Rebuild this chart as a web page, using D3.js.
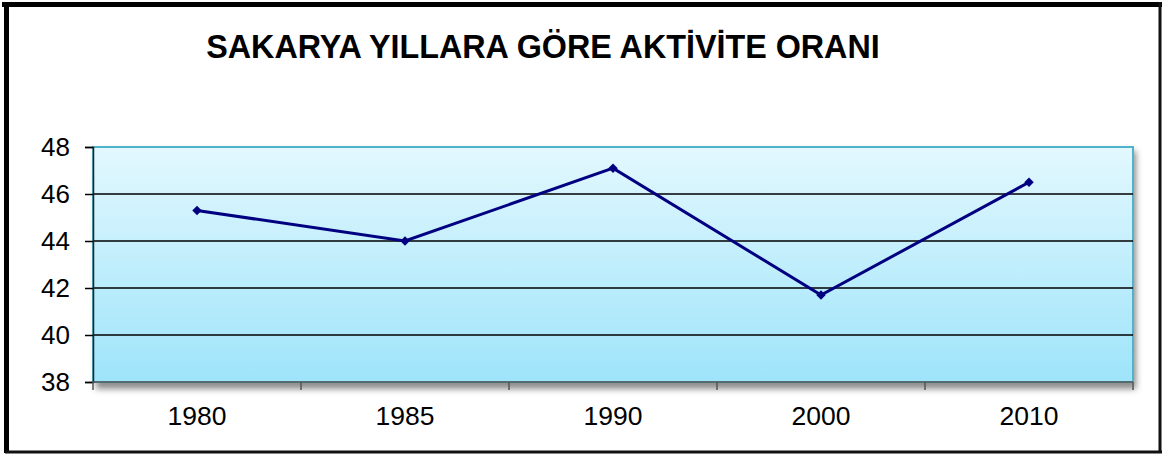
<!DOCTYPE html>
<html>
<head>
<meta charset="utf-8">
<script src="https://cdn.jsdelivr.net/npm/d3@7"></script>
<style>
  body { margin: 0; background: #fff; }
  text { font-family: "Liberation Sans", Arial, sans-serif; }
</style>
</head>
<body>
<script>
// data
var years = ["1980", "1985", "1990", "2000", "2010"];
var rates = [45.3, 44.0, 47.1, 41.7, 46.5];
var yTicks = [38, 40, 42, 44, 46, 48];
var title = "SAKARYA YILLARA GÖRE AKTİVİTE ORANI";

var W = 1165, H = 455;
var plot = {left: 93, top: 147, right: 1133, bottom: 382};

var svg = d3.select("body")
    .append("svg")
    .attr("width", W)
    .attr("height", H);

var defs = svg.append("defs");
var grad = defs.append("linearGradient")
    .attr("id", "bg")
    .attr("x1", 0).attr("y1", 0).attr("x2", 0).attr("y2", 1);
grad.append("stop").attr("offset", "0%").attr("stop-color", "#e3f8fe");
grad.append("stop").attr("offset", "100%").attr("stop-color", "#9ee4fa");

var blur = defs.append("filter").attr("id", "shadow")
    .attr("x", "-5%").attr("y", "-5%").attr("width", "110%").attr("height", "120%");
blur.append("feGaussianBlur").attr("stdDeviation", 3);

var x = d3.scaleBand()
    .domain(years)
    .range([plot.left, plot.right]);

var y = d3.scaleLinear()
    .domain([38, 48])
    .range([plot.bottom, plot.top]);

// title
svg.append("text")
    .attr("x", 543)
    .attr("y", 58)
    .attr("text-anchor", "middle")
    .attr("font-size", 32.3)
    .attr("font-weight", "bold")
    .text(title);

// shadow under the plot area
svg.append("rect")
    .attr("x", plot.left + 3)
    .attr("y", plot.top + 4)
    .attr("width", plot.right - plot.left)
    .attr("height", plot.bottom - plot.top + 3)
    .attr("fill", "#666")
    .attr("opacity", 0.75)
    .attr("filter", "url(#shadow)");

// plot area
svg.append("rect")
    .attr("x", plot.left)
    .attr("y", plot.top)
    .attr("width", plot.right - plot.left)
    .attr("height", plot.bottom - plot.top)
    .attr("fill", "url(#bg)")
    .attr("stroke", "#4fb3cc")
    .attr("stroke-width", 2);

// gridlines
svg.append("g")
    .selectAll("line")
    .data(yTicks.slice(1, -1))
    .enter()
    .append("line")
    .attr("x1", plot.left)
    .attr("x2", plot.right)
    .attr("y1", function(d){ return y(d); })
    .attr("y2", function(d){ return y(d); })
    .attr("stroke", "#000")
    .attr("stroke-width", 1.5);

// y axis
var yAxis = svg.append("g")
    .attr("transform", "translate(" + plot.left + ",0)")
    .call(d3.axisLeft(y).tickValues(yTicks).tickSize(8).tickPadding(15));
yAxis.select(".domain").attr("stroke", "#222").attr("stroke-width", 1.5);
yAxis.selectAll(".tick line").attr("stroke", "#000").attr("stroke-width", 1.5);
yAxis.selectAll("text")
    .attr("font-size", 26)
    .attr("fill", "#000")
    .style("font-family", "'Liberation Sans', Arial, sans-serif");

// x axis: ticks between the categories
var xEdges = years.map(function(d){ return x(d); }).concat([plot.right]);
svg.append("g")
    .selectAll("line")
    .data(xEdges)
    .enter()
    .append("line")
    .attr("x1", function(d){ return d; })
    .attr("x2", function(d){ return d; })
    .attr("y1", plot.bottom)
    .attr("y2", plot.bottom + 8)
    .attr("stroke", "#555")
    .attr("stroke-width", 1.5);

svg.append("line")
    .attr("x1", plot.left).attr("x2", plot.right)
    .attr("y1", plot.bottom).attr("y2", plot.bottom)
    .attr("stroke", "#555")
    .attr("stroke-width", 1.5);

svg.append("g")
    .selectAll("text")
    .data(years)
    .enter()
    .append("text")
    .attr("x", function(d){ return x(d) + x.bandwidth() / 2; })
    .attr("y", 425)
    .attr("text-anchor", "middle")
    .attr("font-size", 26.5)
    .text(function(d){ return d; });

// series line
var pts = years.map(function(d, i){ return [x(d) + x.bandwidth() / 2, y(rates[i])]; });

svg.append("path")
    .attr("d", d3.line()(pts))
    .attr("fill", "none")
    .attr("stroke", "#000080")
    .attr("stroke-width", 3);

// diamond markers: square turned by 45 degrees
svg.append("g")
    .selectAll("path")
    .data(pts)
    .enter()
    .append("path")
    .attr("transform", function(d){ return "translate(" + d[0] + "," + d[1] + ") rotate(45)"; })
    .attr("d", d3.symbol().type(d3.symbolSquare).size(45))
    .attr("fill", "#000080");

// outer frame
svg.append("line").attr("x1", 2).attr("x2", 1162).attr("y1", 4.5).attr("y2", 4.5)
    .attr("stroke", "#000").attr("stroke-width", 5);
svg.append("line").attr("x1", 6.5).attr("x2", 6.5).attr("y1", 2).attr("y2", 453)
    .attr("stroke", "#000").attr("stroke-width", 5);
svg.append("line").attr("x1", 1160).attr("x2", 1160).attr("y1", 2).attr("y2", 453)
    .attr("stroke", "#111").attr("stroke-width", 3);
svg.append("line").attr("x1", 5).attr("x2", 1162).attr("y1", 452).attr("y2", 452)
    .attr("stroke", "#111").attr("stroke-width", 3);
</script>
</body>
</html>
